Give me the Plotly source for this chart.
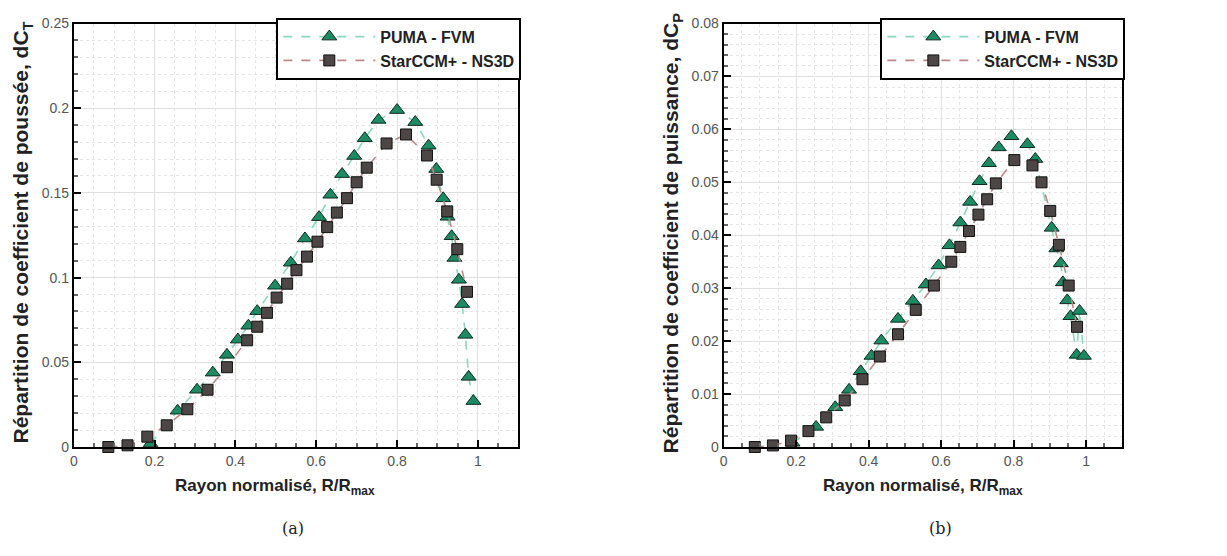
import plotly.graph_objects as go

# ---------------- data ----------------
# (a) thrust distribution dC_T
puma_ct_x = [0.19, 0.257, 0.305, 0.344, 0.379, 0.406, 0.432, 0.454, 0.498, 0.537, 0.572,
             0.607, 0.635, 0.664, 0.694, 0.720, 0.754, 0.800, 0.845, 0.878, 0.897,
             0.914, 0.925, 0.935, 0.942, 0.953, 0.961, 0.969, 0.977, 0.989]
puma_ct_y = [0.002, 0.0214, 0.0338, 0.0439, 0.0544, 0.0634, 0.0716, 0.0802, 0.0952, 0.1088, 0.1231,
             0.1357, 0.1489, 0.1611, 0.1718, 0.1823, 0.1931, 0.1989, 0.1918, 0.1779, 0.1641,
             0.1468, 0.1359, 0.1244, 0.1116, 0.0987, 0.0844, 0.0662, 0.0414, 0.0271]
star_ct_x = [0.0855, 0.133, 0.182, 0.230, 0.281, 0.331, 0.379, 0.429, 0.454, 0.478, 0.502,
             0.528, 0.551, 0.577, 0.603, 0.627, 0.651, 0.676, 0.700, 0.725, 0.774,
             0.822, 0.874, 0.898, 0.924, 0.949, 0.973]
star_ct_y = [0.0, 0.001, 0.0061, 0.0128, 0.0223, 0.0338, 0.0471, 0.0630, 0.0710, 0.0792, 0.0882,
             0.0964, 0.1044, 0.1124, 0.1212, 0.1298, 0.1384, 0.1469, 0.1563, 0.1649, 0.1792,
             0.1845, 0.1721, 0.1578, 0.1391, 0.1168, 0.0916]

# (b) power distribution dC_P
puma_cp_x = [0.19, 0.255, 0.308, 0.346, 0.378, 0.408, 0.435, 0.481, 0.522, 0.558, 0.593,
             0.623, 0.653, 0.680, 0.706, 0.732, 0.759, 0.794, 0.838, 0.860, 0.905,
             0.918, 0.930, 0.936, 0.948, 0.957, 0.974, 0.982, 0.994]
puma_cp_y = [0.0008, 0.0038, 0.0075, 0.0108, 0.0143, 0.0172, 0.0201, 0.0242, 0.0276, 0.0307, 0.0343,
             0.0381, 0.0424, 0.0463, 0.0502, 0.0536, 0.0566, 0.0587, 0.0572, 0.0544, 0.0414,
             0.0375, 0.0347, 0.0311, 0.0277, 0.0247, 0.0174, 0.0257, 0.0172]
star_cp_x = [0.086, 0.136, 0.186, 0.234, 0.283, 0.334, 0.383, 0.431, 0.481, 0.530, 0.580,
             0.628, 0.653, 0.677, 0.703, 0.727, 0.751, 0.802, 0.852, 0.877, 0.901,
             0.925, 0.952, 0.975]
star_cp_y = [0.0, 0.0003, 0.0012, 0.0030, 0.0056, 0.0088, 0.0128, 0.0171, 0.0213, 0.0259, 0.0305,
             0.0350, 0.0378, 0.0408, 0.0439, 0.0468, 0.0498, 0.0542, 0.0532, 0.0500, 0.0446,
             0.0382, 0.0305, 0.0227]

series_names = ["PUMA - FVM", "StarCCM+ - NS3D"]
x_title = "Rayon normalisé, R/R<sub>max</sub>"
y_titles = ["Répartition de coefficient de poussée, dC<sub>T</sub>",
            "Répartition de coefficient de puissance, dC<sub>P</sub>"]
captions = ["(a)", "(b)"]

# ---------------- styling ----------------
W, H = 1227, 556
PUMA_LINE = "#8fd6bd"
PUMA_MARK = "#1d8a64"
STAR_LINE = "#b98a8a"
STAR_MARK = "#4d4646"
SANS = "Liberation Sans, Arial, sans-serif"

fig = go.Figure()

def add_pair(px, py, sx, sy, xa, ya, legend):
    fig.add_trace(go.Scatter(
        x=px, y=py, xaxis=xa, yaxis=ya, name=series_names[0], legend=legend,
        mode="lines+markers", cliponaxis=False,
        line=dict(color=PUMA_LINE, width=1.6, dash="dash"),
        marker=dict(symbol="triangle-up", size=13, color=PUMA_MARK,
                    line=dict(color="#0d2b20", width=1))))
    fig.add_trace(go.Scatter(
        x=sx, y=sy, xaxis=xa, yaxis=ya, name=series_names[1], legend=legend,
        mode="lines+markers", cliponaxis=False,
        line=dict(color=STAR_LINE, width=1.6, dash="dash"),
        marker=dict(symbol="square", size=11, color=STAR_MARK,
                    line=dict(color="#111111", width=1))))

add_pair(puma_ct_x, puma_ct_y, star_ct_x, star_ct_y, "x", "y", "legend")
add_pair(puma_cp_x, puma_cp_y, star_cp_x, star_cp_y, "x2", "y2", "legend2")

# plot frames in pixels
L1, R1 = 70, 516
L2, R2 = 722, 1122
TOP, BOT = 16, 452
ydom = [1 - BOT / H, 1 - TOP / H]

def xaxis(dom, anchor):
    return dict(domain=dom, anchor=anchor, range=[0, 1.1], dtick=0.2, tick0=0,
                showline=True, linecolor="black", linewidth=2, mirror=True,
                ticks="inside", ticklen=7, tickwidth=1.5, tickcolor="black",
                tickfont=dict(family=SANS, size=14, color="#555555"),
                showgrid=True, gridcolor="#e0e0e0", gridwidth=1, zeroline=False,
                minor=dict(dtick=0.05, ticks="inside", ticklen=4, tickcolor="#666666",
                           showgrid=True, gridcolor="#e6e6e6", griddash="dot"))

def yaxis(dom, anchor, rng, dt, mdt):
    return dict(domain=dom, anchor=anchor, range=rng, dtick=dt, tick0=0,
                showline=True, linecolor="black", linewidth=2, mirror=True,
                ticks="inside", ticklen=7, tickwidth=1.5, tickcolor="black",
                tickfont=dict(family=SANS, size=14, color="#555555"),
                showgrid=True, gridcolor="#e0e0e0", gridwidth=1, zeroline=False,
                minor=dict(dtick=mdt, ticks="inside", ticklen=4, tickcolor="#666666",
                           showgrid=True, gridcolor="#e6e6e6", griddash="dot"))

legend_style = dict(bgcolor="white", bordercolor="black", borderwidth=2,
                    font=dict(family=SANS, size=16, color="#222222", weight="bold"),
                    itemwidth=92, xanchor="right", yanchor="top", tracegroupgap=0,
                    itemsizing="trace")

fig.update_layout(
    width=W, height=H, margin=dict(l=0, r=0, t=0, b=0),
    paper_bgcolor="white", plot_bgcolor="white",
    xaxis=xaxis([L1 / W, R1 / W], "y"),
    yaxis=yaxis(ydom, "x", [0, 0.25], 0.05, 0.01),
    xaxis2=xaxis([L2 / W, R2 / W], "y2"),
    yaxis2=yaxis(ydom, "x2", [0, 0.08], 0.01, 0.002),
    legend=dict(x=(R1 + 3) / W, y=1 - 10 / H, **legend_style),
    legend2=dict(x=(R2 + 3) / W, y=1 - 10 / H, **legend_style),
    showlegend=True,
)

title_cx = [272, 922]
caption_cx = [290, 940]
ann = []
for i, (l, r) in enumerate([(L1, R1), (L2, R2)]):
    ann.append(dict(x=title_cx[i] / W, y=1 - 493 / H, xref="paper", yref="paper", showarrow=False,
                    xanchor="center", yanchor="middle",
                    text="<b>" + x_title + "</b>",
                    font=dict(family=SANS, size=17, color="#222222")))
    ann.append(dict(x=(l - 52) / W, y=(ydom[0] + ydom[1]) / 2 + 0.005, xref="paper", yref="paper",
                    xanchor="center", yanchor="middle",
                    showarrow=False, textangle=-90, text="<b>" + y_titles[i] + "</b>",
                    font=dict(family=SANS, size=21, color="#222222")))
    ann.append(dict(x=caption_cx[i] / W, y=1 - 536 / H, xref="paper", yref="paper", showarrow=False,
                    xanchor="center", yanchor="middle",
                    text=captions[i], font=dict(family="DejaVu Serif, serif", size=16, color="#222222")))
fig.update_layout(annotations=ann)

fig.write_html("out.html", config={"displayModeBar": False},
               post_script="document.body.style.margin='0';document.body.style.padding='0';")
